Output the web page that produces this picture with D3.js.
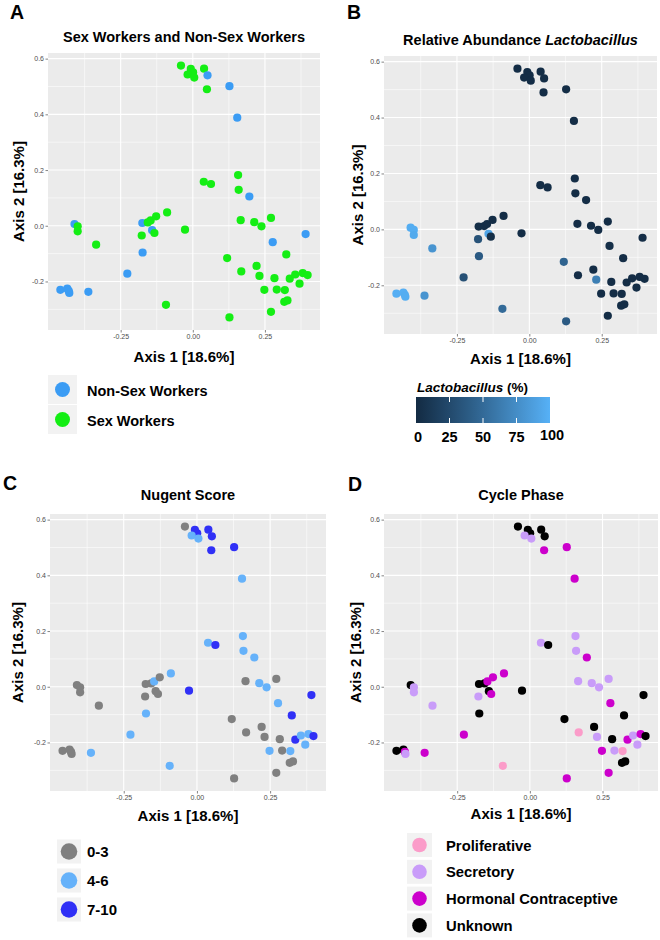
<!DOCTYPE html>
<html>
<head>
<meta charset="utf-8">
<script src="https://cdn.jsdelivr.net/npm/d3@7"></script>
<style>
  html, body { margin: 0; padding: 0; background: #ffffff; }
  svg { display: block; }
  text { font-family: "Liberation Sans", Arial, sans-serif; }
</style>
</head>
<body>
<svg id="chart" width="660" height="940"></svg>
<script>
// ---------------- DATA ----------------
const axis1 = [-0.041,-0.007,0.001,-0.018,0.005,0.039,0.051,0.049,0.127,0.154,
  0.157,0.038,0.063,0.159,0.196,-0.410,-0.399,-0.399,-0.335,-0.175,
  -0.156,-0.146,-0.127,-0.089,-0.141,-0.133,-0.177,-0.027,-0.174,-0.227,
  -0.093,-0.459,-0.435,-0.430,-0.428,-0.362,0.166,0.213,0.238,0.271,
  0.277,0.391,0.324,0.119,0.168,0.221,0.231,0.283,0.248,0.291,
  0.319,0.336,0.355,0.370,0.381,0.398,0.317,0.328,0.271,0.127];
const axis2 = [0.575,0.563,0.551,0.543,0.532,0.564,0.540,0.490,0.501,0.388,
  0.182,0.158,0.150,0.129,0.105,0.006,-0.002,-0.020,-0.068,0.010,
  0.012,0.019,0.034,0.048,-0.016,-0.026,-0.035,-0.014,-0.096,-0.172,
  -0.284,-0.230,-0.226,-0.234,-0.241,-0.237,0.020,0.013,-0.002,0.028,
  -0.059,-0.030,-0.103,-0.116,-0.164,-0.144,-0.180,-0.188,-0.230,-0.229,
  -0.231,-0.190,-0.175,-0.208,-0.170,-0.177,-0.273,-0.268,-0.309,-0.329];
const NSW = "Non-Sex Workers", SW = "Sex Workers";
const sexWork = [SW,SW,SW,SW,SW,SW,NSW,SW,NSW,NSW,
  SW,SW,SW,SW,NSW,NSW,SW,SW,SW,NSW,
  SW,SW,SW,SW,NSW,SW,SW,SW,NSW,NSW,
  SW,NSW,NSW,NSW,NSW,NSW,SW,SW,SW,SW,
  NSW,NSW,SW,SW,SW,SW,SW,SW,SW,SW,
  SW,SW,SW,SW,SW,SW,SW,SW,SW,SW];
const lactobacillus = [2,2,2,2,2,2,2,2,2,2,
  2,2,2,2,2,97,97,95,80,3,
  2,2,2,2,92,3,32,2,38,30,
  50,98,98,97,97,80,2,2,2,2,
  3,2,2,45,2,2,65,2,2,2,
  2,2,2,2,2,2,2,2,2,38];
const nugent = ["0-3","7-10","7-10","4-6","4-6","7-10","7-10","7-10","7-10","4-6",
  "4-6","4-6","7-10","4-6","4-6","0-3","0-3","0-3","0-3","0-3",
  "0-3","4-6","0-3","4-6","0-3","0-3","0-3","7-10","4-6","4-6",
  "4-6","0-3","0-3","0-3","0-3","4-6","0-3","4-6","4-6","0-3",
  "4-6","7-10","7-10","0-3","0-3","0-3","0-3","0-3","4-6","0-3",
  "4-6","7-10","4-6","4-6","4-6","7-10","0-3","0-3","0-3","0-3"];
const P = "Proliferative", S = "Secretory", HC = "Hormonal Contraceptive", U = "Unknown";
const cycle = [U,U,U,S,S,U,U,HC,HC,HC,
  S,S,U,S,HC,U,S,S,S,U,
  U,HC,HC,HC,U,HC,S,U,U,HC,
  P,U,U,HC,S,HC,S,S,S,S,
  HC,U,U,U,P,U,S,U,HC,S,
  P,HC,S,S,HC,U,U,U,HC,HC];

const sexCategories = [NSW, SW];
const sexColors = ["#3b9cf4", "#14ee14"];
const nugentCategories = ["0-3", "4-6", "7-10"];
const nugentColors = ["#808080", "#66b2fa", "#3030f6"];
const cycleCategories = [P, S, HC, U];
const cycleColors = ["#fb9cc9", "#c99cf9", "#cc00cc", "#000000"];
const lactoBreaks = [0, 25, 50, 75, 100];
const lactoRange = ["#132B43", "#56B1F7"];

const xTicks = [-0.25, 0, 0.25];
const xTickLabels = ["-0.25", "0.00", "0.25"];
const yTicks = [-0.2, 0, 0.2, 0.4, 0.6];
const yTickLabels = ["-0.2", "0.0", "0.2", "0.4", "0.6"];

const titles = ["Sex Workers and Non-Sex Workers", "Relative Abundance ", "Nugent Score", "Cycle Phase"];
const xLabel = "Axis 1 [18.6%]";
const yLabel = "Axis 2 [16.3%]";

// ---------------- LAYOUT ----------------
const panels = [
  {key:"A", left:48,  right:320, top:53,  bottom:330, lx:10,  ly:19,  ty:41.5, xly:362, ylx:24},
  {key:"B", left:384, right:657, top:56,  bottom:334, lx:347, ly:19,  ty:45,   xly:364, ylx:363},
  {key:"C", left:50,  right:326, top:514, bottom:791, lx:3,   ly:490, ty:499.5,xly:821, ylx:23},
  {key:"D", left:384, right:658, top:514, bottom:791, lx:348, ly:491, ty:500,  xly:819, ylx:361}
];

const svg = d3.select("#chart");
const data = axis1.map((x, i) => ({x, y: axis2[i], sex: sexWork[i], lacto: lactobacillus[i], nugent: nugent[i], cycle: cycle[i]}));

function expand(ext) { const r = ext[1] - ext[0]; return [ext[0] - 0.05 * r, ext[1] + 0.05 * r]; }
const xDomain = expand(d3.extent(axis1));
const yDomain = expand(d3.extent(axis2));

const sexScale = d3.scaleOrdinal().domain(sexCategories).range(sexColors);
const nugentScale = d3.scaleOrdinal().domain(nugentCategories).range(nugentColors);
const cycleScale = d3.scaleOrdinal().domain(cycleCategories).range(cycleColors);
const lactoScale = d3.scaleLinear().domain([0, 100]).range(lactoRange).interpolate(d3.interpolateLab);

const colorFns = [d => sexScale(d.sex), d => lactoScale(d.lacto), d => nugentScale(d.nugent), d => cycleScale(d.cycle)];

function midpoints(arr, lo, hi) {
  const step = arr[1] - arr[0];
  const out = [];
  for (let v = arr[0] - step / 2; v <= hi + 1e-9; v += step) if (v >= lo) out.push(+v.toFixed(6));
  return out;
}

panels.forEach((p, pi) => {
  const g = svg.append("g");
  const x = d3.scaleLinear().domain(xDomain).range([p.left, p.right]);
  const y = d3.scaleLinear().domain(yDomain).range([p.bottom, p.top]);

  g.append("rect").attr("x", p.left).attr("y", p.top)
    .attr("width", p.right - p.left).attr("height", p.bottom - p.top).attr("fill", "#EBEBEB");

  // minor grid
  const xMinor = midpoints(xTicks, xDomain[0], xDomain[1]);
  const yMinor = midpoints(yTicks, yDomain[0], yDomain[1]);
  g.selectAll(".xminor").data(xMinor).join("line")
    .attr("x1", d => x(d)).attr("x2", d => x(d)).attr("y1", p.top).attr("y2", p.bottom)
    .attr("stroke", "#ffffff").attr("stroke-width", 0.55);
  g.selectAll(".yminor").data(yMinor).join("line")
    .attr("y1", d => y(d)).attr("y2", d => y(d)).attr("x1", p.left).attr("x2", p.right)
    .attr("stroke", "#ffffff").attr("stroke-width", 0.55);
  // major grid
  g.selectAll(".xmajor").data(xTicks).join("line")
    .attr("x1", d => x(d)).attr("x2", d => x(d)).attr("y1", p.top).attr("y2", p.bottom)
    .attr("stroke", "#ffffff").attr("stroke-width", 1.1);
  g.selectAll(".ymajor").data(yTicks).join("line")
    .attr("y1", d => y(d)).attr("y2", d => y(d)).attr("x1", p.left).attr("x2", p.right)
    .attr("stroke", "#ffffff").attr("stroke-width", 1.1);

  // axes
  const xAxis = d3.axisBottom(x).tickValues(xTicks).tickFormat((d, i) => xTickLabels[i]).tickSize(2.5).tickPadding(1.5);
  const yAxis = d3.axisLeft(y).tickValues(yTicks).tickFormat((d, i) => yTickLabels[i]).tickSize(2.5).tickPadding(1.5);
  const gx = g.append("g").attr("transform", `translate(0,${p.bottom})`).call(xAxis);
  const gy = g.append("g").attr("transform", `translate(${p.left},0)`).call(yAxis);
  [gx, gy].forEach(a => {
    a.select(".domain").remove();
    a.selectAll("line").attr("stroke", "#333333").attr("stroke-width", 0.6);
    a.selectAll("text").attr("fill", "#4D4D4D").style("font-size", "7px")
      .style("font-family", "'Liberation Sans', Arial, sans-serif");
  });

  // points
  g.selectAll(".pt").data(data).join("circle")
    .attr("cx", d => x(d.x)).attr("cy", d => y(d.y)).attr("r", 4.1)
    .attr("fill", colorFns[pi]);

  // letter
  g.append("text").attr("x", p.lx).attr("y", p.ly).text(p.key)
    .style("font-size", "19.5px").style("font-weight", "bold").attr("fill", "#000");
  // title
  const cx = (p.left + p.right) / 2;
  const t = g.append("text").attr("x", cx).attr("y", p.ty).attr("text-anchor", "middle")
    .style("font-size", "14.5px").style("font-weight", "bold").attr("fill", "#000");
  t.append("tspan").text(titles[pi]);
  if (pi === 1) t.append("tspan").style("font-style", "italic").text("Lactobacillus");
  // axis labels
  g.append("text").attr("x", cx).attr("y", p.xly).attr("text-anchor", "middle")
    .style("font-size", "15px").style("font-weight", "bold").text(xLabel);
  g.append("text").attr("transform", `translate(${p.ylx},${(p.top + p.bottom) / 2}) rotate(-90)`)
    .attr("text-anchor", "middle").style("font-size", "15px").style("font-weight", "bold").text(yLabel);
});

// ---------------- LEGENDS ----------------
function discreteLegend(cats, scale, opt) {
  const g = svg.append("g");
  cats.forEach((c, i) => {
    const cy = opt.y0 + i * opt.step;
    g.append("rect").attr("x", opt.x).attr("y", cy - opt.box / 2).attr("width", opt.boxW).attr("height", opt.box)
      .attr("fill", "#F2F2F2");
    g.append("circle").attr("cx", opt.x + opt.boxW / 2).attr("cy", cy).attr("r", opt.r).attr("fill", scale(c));
    g.append("text").attr("x", opt.tx).attr("y", cy + opt.dy).text(c)
      .style("font-size", opt.fs + "px").style("font-weight", "bold").attr("fill", "#000");
  });
}
discreteLegend(sexCategories, sexScale, {x: 48, boxW: 29, box: 29, y0: 389.5, step: 30, r: 7.5, tx: 87, dy: 6, fs: 14.5});
discreteLegend(nugentCategories, nugentScale, {x: 57, boxW: 24, box: 24, y0: 851.5, step: 29, r: 8.3, tx: 87, dy: 5, fs: 15});
discreteLegend(cycleCategories, cycleScale, {x: 407, boxW: 25, box: 24, y0: 845, step: 26.8, r: 7.3, tx: 446, dy: 5.5, fs: 14.8});

// colour bar legend
(function () {
  const g = svg.append("g");
  const bx0 = 416, bx1 = 550, by = 397, bh = 26;
  const bs = d3.scaleLinear().domain([0, 100]).range([bx0, bx1]);
  const defs = svg.append("defs");
  const grad = defs.append("linearGradient").attr("id", "lactoGrad").attr("x1", "0%").attr("x2", "100%");
  d3.range(0, 101, 10).forEach(v => grad.append("stop").attr("offset", v + "%").attr("stop-color", lactoScale(v)));
  g.append("rect").attr("x", bx0).attr("y", by).attr("width", bx1 - bx0).attr("height", bh).attr("fill", "url(#lactoGrad)");
  lactoBreaks.slice(1, -1).forEach(v => {
    g.append("line").attr("x1", bs(v)).attr("x2", bs(v)).attr("y1", by).attr("y2", by + 5).attr("stroke", "#fff").attr("stroke-width", 1);
    g.append("line").attr("x1", bs(v)).attr("x2", bs(v)).attr("y1", by + bh - 5).attr("y2", by + bh).attr("stroke", "#fff").attr("stroke-width", 1);
  });
  lactoBreaks.forEach(v => {
    g.append("text").attr("x", bs(v) + (v === 0 ? 2 : v === 100 ? 2 : 0)).attr("y", v === 100 ? 440 : 441.5)
      .attr("text-anchor", "middle").style("font-size", "14.5px").style("font-weight", "bold").text(v);
  });
  const t = g.append("text").attr("x", 417).attr("y", 392).style("font-size", "13.5px").style("font-weight", "bold");
  t.append("tspan").style("font-style", "italic").text("Lactobacillus");
  t.append("tspan").text(" (%)");
})();
</script>
</body>
</html>
